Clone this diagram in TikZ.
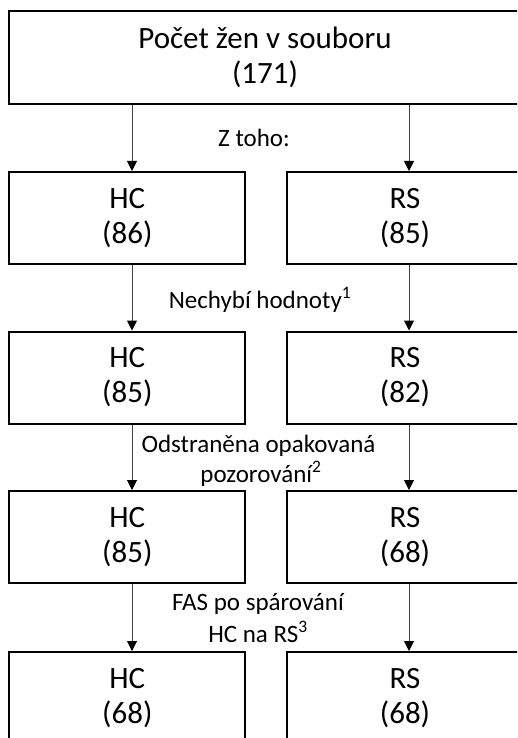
\documentclass[tikz,border=0pt]{standalone}
\usepackage{fontspec}
\setmainfont{Carlito}
\usetikzlibrary{arrows.meta,calc}
\definecolor{arrgray}{RGB}{64,64,64}
\begin{document}
\begin{tikzpicture}[x=1pt,y=-1pt,
 box/.style={draw=black,line width=2pt,minimum width=236pt,minimum height=92pt,inner sep=0pt,align=center,font=\fontsize{31}{35}\selectfont},
 lab/.style={anchor=base,inner sep=0pt,font=\fontsize{25}{30}\selectfont},
 arr/.style={draw=arrgray,line width=1pt,-{Triangle[length=10pt,width=10pt,color=black]}}]
\useasboundingbox (0,0) rectangle (517,738);
\clip (0,0) rectangle (517,738);
\node[box,minimum width=512pt,minimum height=93pt] (top) at (265,57.5) {Počet žen v souboru\\(171)};
\node[box] (L1) at (127.3,218) {HC\\(86)};
\node[box] (R1) at (405,218) {RS\\(85)};
\node[box] (L2) at (127.3,377.5) {HC\\(85)};
\node[box] (R2) at (405,377.5) {RS\\(82)};
\node[box] (L3) at (127.3,537) {HC\\(85)};
\node[box] (R3) at (405,537) {RS\\(68)};
\node[box] (L4) at (127.3,698) {HC\\(68)};
\node[box] (R4) at (405,698) {RS\\(68)};
\draw[arr] ($(L1.north |- top.south)+(4.7,0)$) -- ($(L1.north)+(4.7,0)$);
\draw[arr] ($(R1.north |- top.south)+(4,0)$) -- ($(R1.north)+(4,0)$);
\draw[arr] ($(L1.south)+(4.7,0)$) -- ($(L2.north)+(4.7,0)$);
\draw[arr] ($(R1.south)+(4,0)$) -- ($(R2.north)+(4,0)$);
\draw[arr] ($(L2.south)+(4.7,0)$) -- ($(L3.north)+(4.7,0)$);
\draw[arr] ($(R2.south)+(4,0)$) -- ($(R3.north)+(4,0)$);
\draw[arr] ($(L3.south)+(4.7,0)$) -- ($(L4.north)+(4.7,0)$);
\draw[arr] ($(R3.south)+(4,0)$) -- ($(R4.north)+(4,0)$);
\node[lab] (z) at (254,147) {Z toho:};
\node[lab] (n) at (260,308) {Nechybí hodnoty\textsuperscript{1}};
\node[lab] (o1) at (258.5,452) {Odstraněna opakovaná};
\node[lab] (o2) at (261,482) {pozorování\textsuperscript{2}};
\node[lab] (f1) at (258,610) {FAS po spárování};
\node[lab] (f2) at (258,642) {HC na RS\textsuperscript{3}};
\end{tikzpicture}
\end{document}
